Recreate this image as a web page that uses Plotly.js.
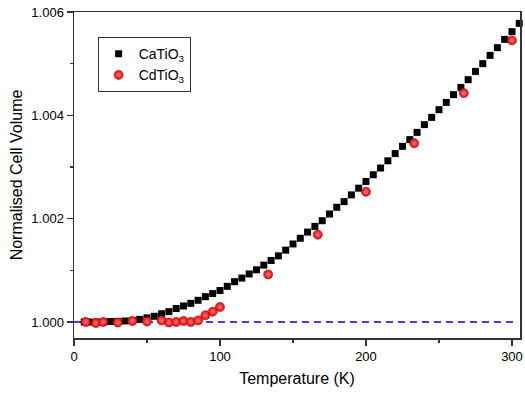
<!DOCTYPE html>
<html>
<head>
<meta charset="utf-8">
<script src="https://cdn.plot.ly/plotly-3.0.1.min.js"></script>
<style>html,body{margin:0;padding:0;background:#fff;}#chart{width:525px;height:394px;}</style>
</head>
<body>
<div id="chart"></div>
<script>
// CaTiO3 data (temperature K, normalised cell volume)
const caT = [7,10,15,20,25,30,35,40,45,50,55,60,65,70,75,80,85,90,95,100,105,110,115,120,125,130,135,140,145,150,155,160,165,170,175,180,185,190,195,200,205,210,215,220,225,230,235,240,245,250,255,260,265,270,275,280,285,290,295,300,305,310];
const caV = [1.00000,1.00000,1.00000,1.00000,1.00001,1.00001,1.00002,1.00003,1.00005,1.00008,1.00011,1.00016,1.00020,1.00026,1.00031,1.00036,1.00042,1.00049,1.00055,1.00061,1.00069,1.00078,1.00085,1.00093,1.00101,1.00110,1.00119,1.00128,1.00139,1.00151,1.00162,1.00174,1.00185,1.00196,1.00209,1.00222,1.00233,1.00246,1.00259,1.00272,1.00285,1.00298,1.00312,1.00326,1.00340,1.00353,1.00367,1.00382,1.00396,1.00411,1.00425,1.00440,1.00454,1.00469,1.00485,1.00500,1.00516,1.00531,1.00547,1.00562,1.00578,1.00594];
// CdTiO3 data
const cdT = [8,15,20,30,40,50,60,65,70,75,80,85,90,95,100,133,167,200,233,267,300];
const cdV = [1.00000,0.99998,1.00000,0.99999,1.00002,1.00001,1.00003,0.99999,1.00000,1.00002,1.00000,1.00003,1.00013,1.00020,1.00029,1.00092,1.00169,1.00252,1.00346,1.00443,1.00545];
// Reference line
const refT = [0, 302];
const refV = [1.000, 1.000];

const font = 'Liberation Sans, Arial, sans-serif';

const traces = [
  {x: refT, y: refV, mode: 'lines', line: {color: '#0000ff', width: 1.5, dash: '7px,5px'}, showlegend: false, hoverinfo: 'skip'},
  {x: caT, y: caV, mode: 'markers', name: 'CaTiO<sub>3</sub>', cliponaxis: false,
   marker: {symbol: 'square', size: 7, color: '#000000'}},
  {x: cdT, y: cdV, mode: 'markers', name: 'CdTiO<sub>3</sub>', cliponaxis: false,
   marker: {symbol: 'circle', size: 9, color: '#f00000', line: {color: '#b00000', width: 0.6},
            gradient: {type: 'radial', color: '#ff8080'}}}
];

const axisCommon = {
  showgrid: false, zeroline: false, showline: true, mirror: true,
  linecolor: '#333', linewidth: 1.5,
  ticks: 'outside', ticklen: 6, tickwidth: 1.2, tickcolor: '#333',
  tickfont: {family: font, size: 13, color: '#000'},
};

const layout = {
  width: 525, height: 394,
  margin: {l: 74, r: 5, t: 12, b: 56},
  paper_bgcolor: '#fff', plot_bgcolor: '#fff',
  font: {family: font, color: '#000'},
  xaxis: Object.assign({}, axisCommon, {
    range: [0, 305.5], tick0: 0, dtick: 100,
    minor: {ticks: 'outside', ticklen: 3, tickwidth: 1.2, tickcolor: '#333', dtick: 50, showgrid: false},
    title: {text: 'Temperature (K)', font: {family: font, size: 16, color: '#000'}, standoff: 9}
  }),
  yaxis: Object.assign({}, axisCommon, {
    range: [0.99969, 1.006], tick0: 1.0, dtick: 0.002, tickformat: '.3f',
    minor: {ticks: 'outside', ticklen: 3, tickwidth: 1.2, tickcolor: '#333', dtick: 0.001, showgrid: false},
    title: {text: 'Normalised Cell Volume', font: {family: font, size: 16, color: '#000'}, standoff: 5}
  }),
  legend: {
    x: 0.053, y: 0.923, xanchor: 'left', yanchor: 'top',
    bgcolor: '#fff', bordercolor: '#333', borderwidth: 1,
    font: {family: font, size: 14, color: '#000'},
    itemwidth: 30, tracegroupgap: 0
  },
  showlegend: true
};

Plotly.newPlot('chart', traces, layout, {displayModeBar: false, staticPlot: true});
</script>
</body>
</html>
